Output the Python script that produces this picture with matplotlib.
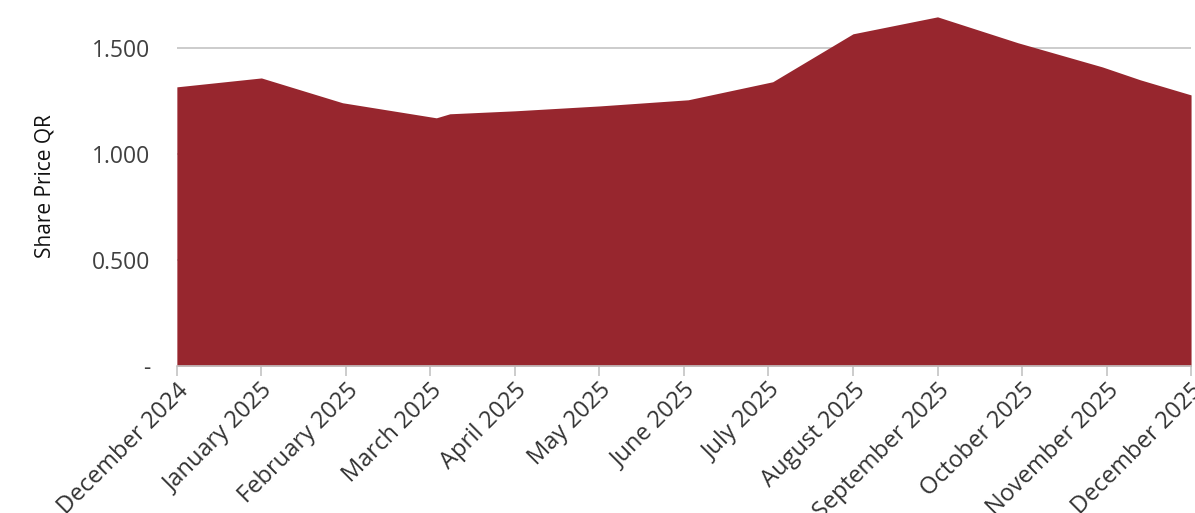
import matplotlib
matplotlib.use("Agg")
import matplotlib.pyplot as plt

plt.rcParams['font.family'] = ['Open Sans', 'DejaVu Sans']

# month position (0 = December 2024) and share price
month_pos = [0, 1.0, 1.96, 3.07, 3.23, 4.0, 5.0, 6.05, 7.05, 8.0, 9.0, 9.95, 10.95, 11.4, 12.0]
price = [1.316, 1.358, 1.241, 1.170, 1.189, 1.203, 1.226, 1.255, 1.340, 1.566,
         1.646, 1.524, 1.410, 1.349, 1.278]

months = ["December 2024", "January 2025", "February 2025", "March 2025", "April 2025",
          "May 2025", "June 2025", "July 2025", "August 2025", "September 2025",
          "October 2025", "November 2025", "December 2025"]
yticks = [0, 0.5, 1.0, 1.5]
ytick_labels = ["-", "0.500", "1.000", "1.500"]

fig = plt.figure(figsize=(11.95, 5.13), dpi=100)
ax = fig.add_axes([0.148, 0.2865, 0.8487, 0.703])

ax.fill_between(month_pos, price, 0, color="#97262E", linewidth=0, zorder=2)

ax.set_xlim(0, 12)
ax.set_ylim(0, 1.7)
ax.set_yticks(yticks)
ax.set_yticklabels(ytick_labels, fontsize=16.5, color="#404040")
ax.tick_params(axis='y', length=0, pad=19)
ax.yaxis.grid(True, color="#c4c4c4", linewidth=1.2, zorder=1)
ax.set_axisbelow(True)

ax.set_xticks(range(len(months)))
ax.set_xticklabels(months, rotation=45, ha='right', rotation_mode='anchor',
                   fontsize=17, color="#333333")
ax.tick_params(axis='x', length=7, width=1.2, color="#c4c4c4", pad=2)

for s in ['top', 'right', 'left']:
    ax.spines[s].set_visible(False)
ax.spines['bottom'].set_color("#c4c4c4")
ax.spines['bottom'].set_linewidth(1.2)

ax.set_ylabel("Share Price QR", fontsize=15, color="#111111", labelpad=26)

fig.savefig("out.png", dpi=100)
